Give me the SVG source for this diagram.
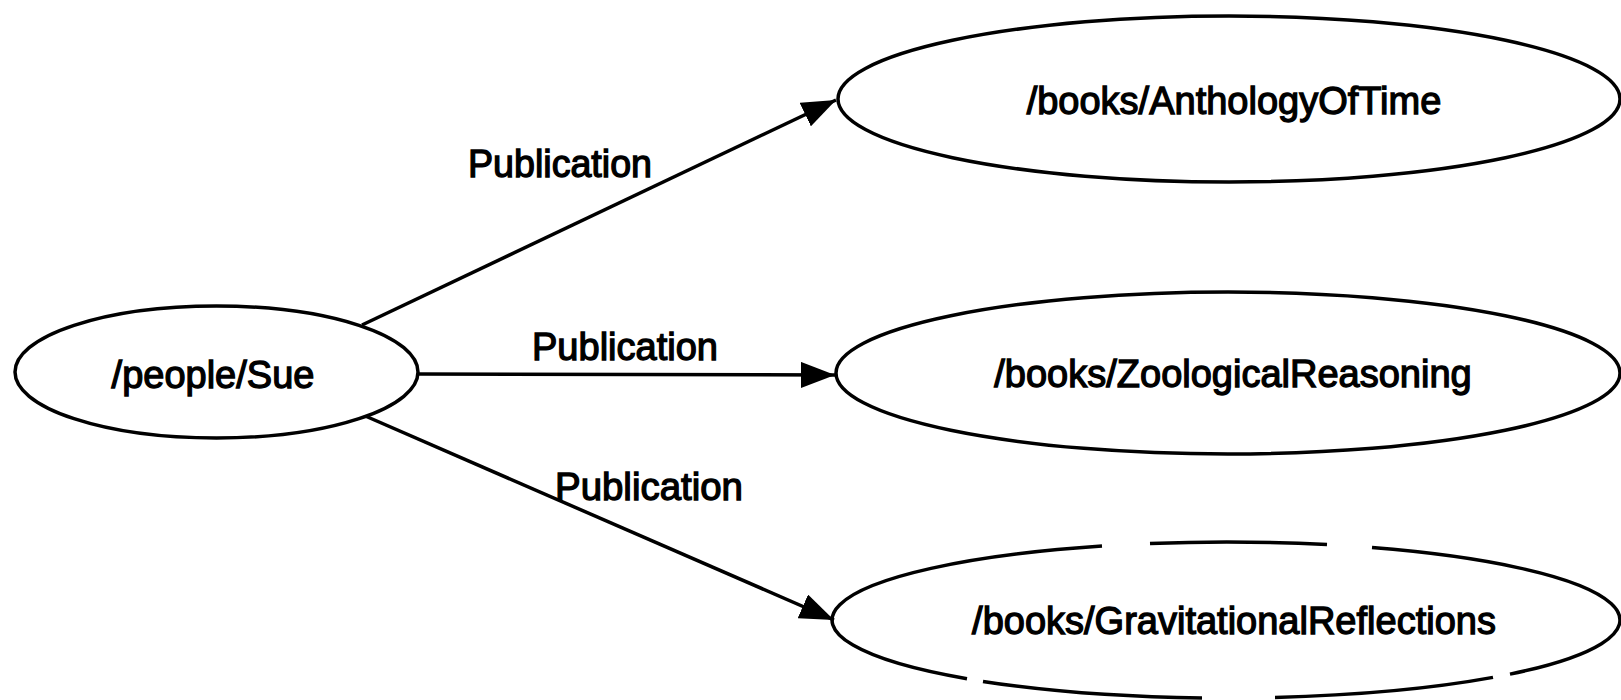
<svg xmlns="http://www.w3.org/2000/svg" width="1621" height="700" viewBox="0 0 1621 700">
  <style>
    .node { fill: #fff; stroke: #000; stroke-width: 3.5; }
    .edge { fill: none; stroke: #000; stroke-width: 3.5; }
    .label { font-family: "Liberation Sans", Arial, sans-serif; font-size: 38px; fill: #000; stroke: #000; stroke-width: 1.3; text-anchor: middle; }
  </style>
  <defs>
    <marker id="arrow" markerUnits="userSpaceOnUse" markerWidth="34" markerHeight="26" refX="34" refY="13" orient="auto">
      <path d="M0,0 L34,13 L0,26 z" fill="#000"/>
    </marker>
  </defs>
  <rect width="1621" height="700" fill="#fff"/>

  <g id="connectors">
    <line class="edge" x1="362" y1="325" x2="836" y2="100" marker-end="url(#arrow)"/>
    <line class="edge" x1="418" y1="374" x2="835" y2="375" marker-end="url(#arrow)"/>
    <line class="edge" x1="363" y1="415" x2="834" y2="620" marker-end="url(#arrow)"/>
    <text class="label" x="560" y="177" textLength="184" lengthAdjust="spacingAndGlyphs">Publication</text>
    <text class="label" x="625" y="360" textLength="186" lengthAdjust="spacingAndGlyphs">Publication</text>
    <text class="label" x="649" y="500" textLength="188" lengthAdjust="spacingAndGlyphs">Publication</text>
  </g>

  <g id="node-sue">
    <ellipse class="node" cx="216.5" cy="372" rx="201.5" ry="66"/>
    <text class="label" x="213" y="388">/people/Sue</text>
  </g>

  <g id="node-anthology">
    <ellipse class="node" cx="1229" cy="99" rx="391" ry="83"/>
    <text class="label" x="1234" y="114">/books/AnthologyOfTime</text>
  </g>

  <g id="node-zoological">
    <ellipse class="node" cx="1228" cy="373" rx="392" ry="81"/>
    <text class="label" x="1233" y="387">/books/ZoologicalReasoning</text>
  </g>

  <g id="node-gravitational">
    <path class="edge" d="M1150,543.5 A394,78 0 0 1 1327,544.6 M1372,547.6 A394,78 0 0 1 1510,674.1 M1493,677.4 A394,78 0 0 1 1275,697.4 M1202,697.9 A394,78 0 0 1 983,681.4 M967,678.8 A394,78 0 0 1 1102,546.0"/>
    <text class="label" x="1234" y="634">/books/GravitationalReflections</text>
  </g>
</svg>
